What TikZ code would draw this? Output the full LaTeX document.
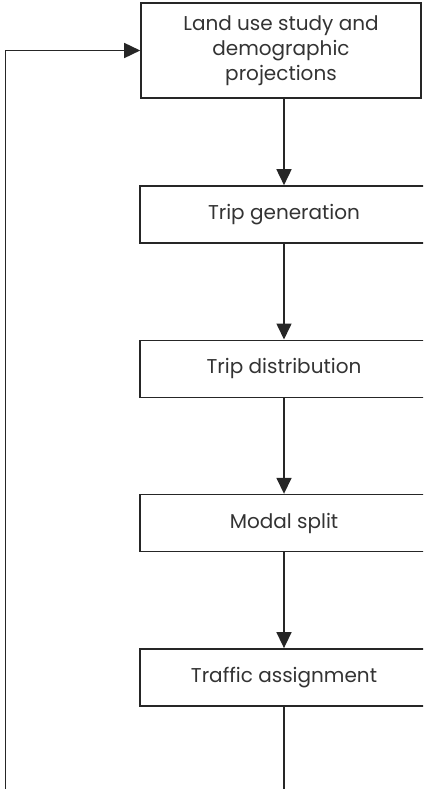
\documentclass[tikz,border=0pt]{standalone}
\usepackage{fontspec}
\setmainfont{Poppins}
\usetikzlibrary{positioning,arrows.meta}

\begin{document}
\begin{tikzpicture}[x=1pt, y=1pt, line width=1.6pt, node distance=154.3pt, on grid,
   box/.style={draw=black!85, rectangle, minimum width=288pt, minimum height=57pt, align=center,
      inner sep=0pt, text=black!80, font=\fontsize{20}{25}\selectfont},
   flow/.style={draw=black!85, -{Triangle[length=16pt, width=15pt]}}]

   \clip (0,0) rectangle (423,-789);

   \node[box, minimum width=280pt, minimum height=95pt] (landuse) at (281,-50.5)
      {Land use study and\\demographic\\projections};
   \node[box] (tripgen) at (284,-214.5) {Trip generation};
   \node[box, below=of tripgen] (tripdist) {Trip distribution};
   \node[box, below=of tripdist] (modal) {Modal split};
   \node[box, below=of modal] (assign) {Traffic assignment};

   \coordinate (feedback) at (5.5,-800);

   \draw[flow] (landuse.south -| tripgen.north) -- (tripgen.north);
   \draw[flow] (tripgen) -- (tripdist);
   \draw[flow] (tripdist) -- (modal);
   \draw[flow] (modal) -- (assign);
   \draw[flow] (assign.south) |- (feedback) |- (landuse.west);
\end{tikzpicture}
\end{document}
